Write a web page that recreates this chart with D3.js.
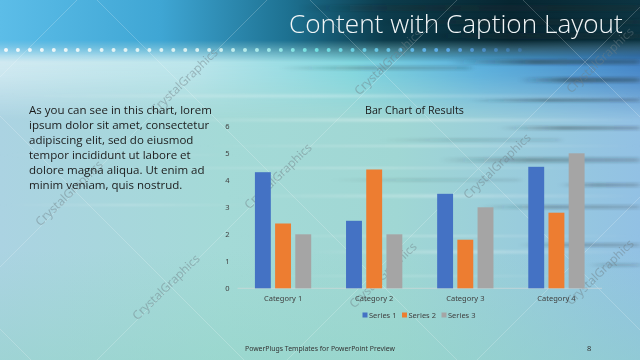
<!DOCTYPE html>
<html>
<head>
<meta charset="utf-8">
<script src="https://cdn.jsdelivr.net/npm/d3@7/dist/d3.min.js"></script>
<style>
body{margin:0;overflow:hidden;background:#fff}
svg{display:block}
</style>
</head>
<body>
<div id="io"></div>
<script>
// chart data
const categories = ['Category 1', 'Category 2', 'Category 3', 'Category 4'];
const seriesNames = ['Series 1', 'Series 2', 'Series 3'];
const series1 = [4.3, 2.5, 3.5, 4.5];
const series2 = [2.4, 4.4, 1.8, 2.8];
const series3 = [2, 2, 3, 5];
const yTicks = [0, 1, 2, 3, 4, 5, 6];
const seriesColors = ['#4472C4', '#ED7D31', '#A5A5A5'];

const slideTitle = 'Content with Caption Layout';
const chartTitle = 'Bar Chart of Results';
const captionLines = [
  'As you can see in this chart, lorem',
  'ipsum dolor sit amet, consectetur',
  'adipiscing elit, sed do eiusmod',
  'tempor incididunt ut labore et',
  'dolore magna aliqua. Ut enim ad',
  'minim veniam, quis nostrud.'
];
const footer = 'PowerPlugs Templates for PowerPoint  Preview';
const pageNo = '8';

const W = 640, H = 360;
const svg = d3.select('#io').append('svg').attr('width', W).attr('height', H);
const defs = svg.append('defs');

function grad(id, stops, x2, y2, extra) {
  const g = defs.append('linearGradient').attr('id', id)
    .attr('x1', 0).attr('y1', 0).attr('x2', x2).attr('y2', y2);
  if (extra) extra(g);
  stops.forEach(s => g.append('stop').attr('offset', s[0]).attr('stop-color', s[1]).attr('stop-opacity', s[2] == null ? 1 : s[2]));
  return g;
}

// background
grad('bodyG', [[0, '#abd3e2'], [0.35, '#a4dad7'], [0.62, '#a0d7d4'], [1, '#92c1e4']], 1, 0);
grad('bottomG', [[0, '#8fd4c4', 0], [1, '#8fd4c4', 0.45]], 0, 1);
grad('topG', [[0, '#5cbde8'], [0.25, '#3fa6d4'], [0.45, '#1d7191'], [0.6, '#0c3c4c'], [0.8, '#072631'], [1, '#0c3442']], 1, 0);
grad('midG', [[0, '#d3ebf2'], [0.3, '#bde6ec'], [0.55, '#7fd6df'], [0.75, '#54acdc'], [1, '#3d7fc4']], 1, 0);
grad('topMask', [[0, '#fff'], [0.65, '#fff'], [1, '#fff', 0]], 0, 1);
grad('midMask', [[0, '#fff', 0], [0.2, '#fff'], [0.45, '#fff', 0.8], [1, '#fff', 0]], 0, 1);
grad('darkS', [[0, '#1f2a2e', 0], [0.45, '#1f2a2e', 0.55], [1, '#1f2a2e', 0.35]], 1, 0);
grad('lightS', [[0, '#ffffff', 0], [0.5, '#ffffff', 0.5], [1, '#ffffff', 0]], 1, 0);
grad('dotG', [[0, '#f2f8fa'], [0.4, '#d6f0f0'], [0.6, '#6fe0e0'], [0.85, '#5aa8e8'], [1, '#4a8ee0', 0.3]], 1, 0,
  g => g.attr('gradientUnits', 'userSpaceOnUse').attr('x1', 0).attr('x2', 525).attr('y1', 0).attr('y2', 0));

defs.append('mask').attr('id', 'mTop').attr('maskContentUnits', 'objectBoundingBox')
  .append('rect').attr('width', 1).attr('height', 1).attr('fill', 'url(#topMask)');
defs.append('mask').attr('id', 'mMid').attr('maskContentUnits', 'objectBoundingBox')
  .append('rect').attr('width', 1).attr('height', 1).attr('fill', 'url(#midMask)');
defs.append('filter').attr('id', 'soft').attr('x', '-10%').attr('y', '-200%').attr('width', '120%').attr('height', '500%')
  .append('feGaussianBlur').attr('stdDeviation', '3 1.2');

const bg = svg.append('g');
bg.append('rect').attr('width', W).attr('height', H).attr('fill', 'url(#bodyG)');
bg.append('rect').attr('y', 250).attr('width', W).attr('height', 110).attr('fill', 'url(#bottomG)');
bg.append('rect').attr('y', 40).attr('width', W).attr('height', 80).attr('fill', 'url(#midG)').attr('mask', 'url(#mMid)');
bg.append('rect').attr('y', 0).attr('width', W).attr('height', 62).attr('fill', 'url(#topG)').attr('mask', 'url(#mTop)');

// streaks in the picture: [x0, x1, y, height, kind, opacity]
const streaks = [
  [300, 640, 8, 6, 'd', 0.8], [380, 640, 22, 5, 'd', 0.7], [430, 640, 36, 5, 'd', 0.8],
  [450, 640, 62, 5, 'd', 0.9], [280, 470, 68, 4, 'd', 0.4], [520, 640, 80, 5, 'd', 0.9],
  [470, 640, 100, 4, 'd', 0.6], [500, 640, 128, 4, 'd', 0.6], [440, 640, 160, 5, 'd', 0.55],
  [560, 640, 185, 4, 'd', 0.5], [480, 640, 207, 4, 'd', 0.45], [520, 640, 245, 4, 'd', 0.45],
  [590, 640, 265, 3, 'd', 0.4], [380, 560, 140, 3, 'd', 0.25], [330, 520, 180, 3, 'd', 0.2],
  [0, 640, 96, 3, 'l', 0.6], [150, 640, 120, 3, 'l', 0.7], [200, 640, 146, 2, 'l', 0.6],
  [100, 620, 168, 2, 'l', 0.5], [230, 640, 196, 3, 'l', 0.6], [0, 260, 205, 2, 'l', 0.4],
  [240, 640, 236, 2, 'l', 0.5], [300, 640, 252, 3, 'l', 0.6], [0, 240, 155, 2, 'l', 0.35],
  [240, 600, 276, 2, 'l', 0.35]
];
bg.append('g').attr('filter', 'url(#soft)').selectAll('rect').data(streaks).join('rect')
  .attr('x', d => d[0]).attr('width', d => d[1] - d[0])
  .attr('y', d => d[2] - d[3] / 2).attr('height', d => d[3])
  .attr('fill', d => d[4] === 'd' ? 'url(#darkS)' : 'url(#lightS)')
  .attr('opacity', d => d[5]);

// diagonal lattice
const lat = bg.append('g').attr('stroke', '#ffffff').attr('stroke-width', 0.8).attr('opacity', 0.25);
for (let k = 0; k < 6; k++) {
  const c = 77 + 190 * k;
  lat.append('line').attr('x1', c).attr('y1', 0).attr('x2', c - 400).attr('y2', 400);
  const e = 97 - 213 * (k - 2);
  lat.append('line').attr('x1', e).attr('y1', 0).attr('x2', e + 400).attr('y2', 400);
}

// dots row
bg.append('g').attr('fill', 'url(#dotG)').selectAll('circle').data(d3.range(44)).join('circle')
  .attr('cx', i => 6 + 11.95 * i).attr('cy', 50).attr('r', 2);

// watermarks
const marks = [[184, 81], [69, 193], [278, 176], [166, 287], [383, 275], [497, 166], [600, 272], [388, 62], [600, 60]];
bg.append('g').selectAll('text').data(marks).join('text')
  .attr('transform', d => `translate(${d[0]},${d[1]}) rotate(-44)`)
  .attr('text-anchor', 'middle').attr('dy', '0.35em')
  .attr('font-family', 'Noto Sans').attr('font-size', 12)
  .attr('fill', '#6f7f86').attr('opacity', 0.45)
  .text('CrystalGraphics');

function fit(sel, w, base) {
  sel.attr('font-size', base);
  const l = sel.node().getComputedTextLength();
  sel.attr('font-size', base * w / l);
  return base * w / l;
}

// slide title
const t = svg.append('text').attr('x', 289).attr('y', 33)
  .attr('font-family', 'Open Sans').attr('font-weight', 300).attr('fill', '#f2f6f7').text(slideTitle);
fit(t, 334, 27);

// caption
const cap = svg.append('g').attr('font-family', 'Open Sans').attr('fill', '#1b1b1b');
const first = cap.append('text').attr('x', 29).attr('y', 114).text(captionLines[0]);
const fs = fit(first, 183, 12);
captionLines.slice(1).forEach((s, i) => {
  cap.append('text').attr('x', 29).attr('y', 114 + 15 * (i + 1)).attr('font-size', fs).text(s);
});

// chart
const x0 = d3.scaleBand().domain(categories).range([237.5, 602]);
const y = d3.scaleLinear().domain([0, 6]).range([288.3, 126.3]);
const bw = x0.bandwidth() / 5.73;
const values = [series1, series2, series3];

const chart = svg.append('g');
const ct = chart.append('text').attr('x', 365).attr('y', 114)
  .attr('font-family', 'Open Sans').attr('fill', '#1a1a1a').text(chartTitle);
fit(ct, 99, 12);

chart.append('line').attr('x1', x0.range()[0]).attr('x2', x0.range()[1])
  .attr('y1', y(0)).attr('y2', y(0)).attr('stroke', '#d9d9d9').attr('opacity', 0.6);

values.forEach((vals, s) => {
  chart.append('g').attr('fill', seriesColors[s]).selectAll('rect')
    .data(vals.map((v, i) => ({ c: categories[i], v })))
    .join('rect')
    .attr('x', d => x0(d.c) + 1.095 * bw + s * 1.27 * bw)
    .attr('width', bw)
    .attr('y', d => y(d.v))
    .attr('height', d => y(0) - y(d.v));
});

const yAxis = d3.axisLeft(y).tickValues(yTicks).tickSize(0).tickPadding(0).tickFormat(d3.format('d'));
const ya = chart.append('g').attr('transform', 'translate(229.5,0)').call(yAxis);
ya.select('.domain').remove();
ya.selectAll('text').attr('font-family', 'Noto Sans').attr('font-size', 7.5).attr('fill', '#404040');

const xAxis = d3.axisBottom(x0).tickSize(0).tickPadding(0);
const xa = chart.append('g').attr('transform', `translate(0,${y(0) + 7})`).call(xAxis);
xa.select('.domain').remove();
xa.selectAll('text').attr('font-family', 'Noto Sans').attr('font-size', 7.5).attr('fill', '#404040');

const leg = chart.append('g').attr('font-family', 'Noto Sans').attr('font-size', 7.5).attr('fill', '#404040')
  .selectAll('g').data(seriesNames).join('g')
  .attr('transform', (d, i) => `translate(${362.5 + 39.5 * i},315)`);
leg.append('rect').attr('x', 0).attr('y', -2.5).attr('width', 5).attr('height', 5).attr('fill', (d, i) => seriesColors[i]);
leg.append('text').attr('x', 6.5).attr('dy', '0.35em').text(d => d);

// footer
const ft = svg.append('g').attr('font-family', 'Noto Sans').attr('fill', '#333');
const f1 = ft.append('text').attr('x', 245).attr('y', 351).text(footer);
fit(f1, 150, 7.5);
ft.append('text').attr('x', 587).attr('y', 351).attr('font-size', 7.5).text(pageNo);
</script>
</body>
</html>
